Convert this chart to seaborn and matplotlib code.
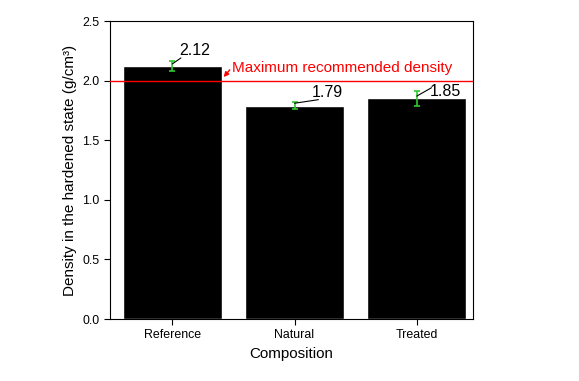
import matplotlib
matplotlib.use("Agg")
import matplotlib.pyplot as plt
import seaborn as sns
import pandas as pd

# Data
compositions = ["Reference", "Natural", "Treated"]
densities = [2.12, 1.79, 1.85]
errors = [0.042, 0.03, 0.06]
max_density = 2.0

sns.set_style("ticks")
plt.rcParams["font.family"] = ["Liberation Sans", "DejaVu Sans"]
plt.rcParams["text.color"] = "black"
plt.rcParams["axes.labelcolor"] = "black"
plt.rcParams["xtick.color"] = "black"
plt.rcParams["ytick.color"] = "black"

df = pd.DataFrame({"Composition": compositions, "Density": densities})

fig = plt.figure(figsize=(5.79, 3.81), dpi=100)
ax = fig.add_axes([110 / 579, 1 - 319 / 381, 363 / 579, 298 / 381])

sns.barplot(data=df, x="Composition", y="Density", color="black",
            width=0.81, errorbar=None, ax=ax, saturation=1)

# Error bars
ax.errorbar(range(len(densities)), densities, yerr=errors, fmt="none",
            ecolor="#2ecc2e", elinewidth=1.2, capsize=2.3, capthick=1.2, zorder=5)

# Maximum recommended density line
ax.axhline(max_density, color="red", lw=1, zorder=4)
ax.annotate("", xy=(0.42, 2.03), xytext=(0.47, 2.09),
            arrowprops=dict(arrowstyle="-|>", color="red", lw=1, mutation_scale=7,
                            shrinkA=0, shrinkB=0))
ax.text(0.485, 2.106, "Maximum recommended density", color="red",
        fontsize=11, va="center", ha="left")

# Value labels with leader lines (label position, leader end)
label_pos = [(0.18, 2.25), (1.27, 1.90), (2.23, 1.91)]
leader_end = [(0.07, 2.19), (1.195, 1.84), (2.12, 1.94)]
for i, d in enumerate(densities):
    ax.annotate("", xy=(i, d + 0.02), xytext=leader_end[i],
                arrowprops=dict(arrowstyle="-", color="black", lw=0.8,
                                shrinkA=0, shrinkB=0), zorder=6)
    ax.text(*label_pos[i], f"{d:.2f}", fontsize=11.5, ha="center", va="center")

ax.set_ylim(0, 2.5)
ax.set_xlim(-0.51, 2.46)
ax.set_yticks([0, 0.5, 1.0, 1.5, 2.0, 2.5])
ax.set_yticklabels([f"{v:.1f}" for v in [0, 0.5, 1.0, 1.5, 2.0, 2.5]])
ax.set_xlabel("Composition", fontsize=10.9)
ax.set_ylabel("Density in the hardened state (g/cm³)", fontsize=11)
ax.tick_params(axis="both", labelsize=8.9, direction="out", length=4, width=0.8)

for side in ["top", "right", "left", "bottom"]:
    ax.spines[side].set_visible(True)
    ax.spines[side].set_linewidth(0.8)
    ax.spines[side].set_color("black")

fig.savefig("out.png", dpi=100)
